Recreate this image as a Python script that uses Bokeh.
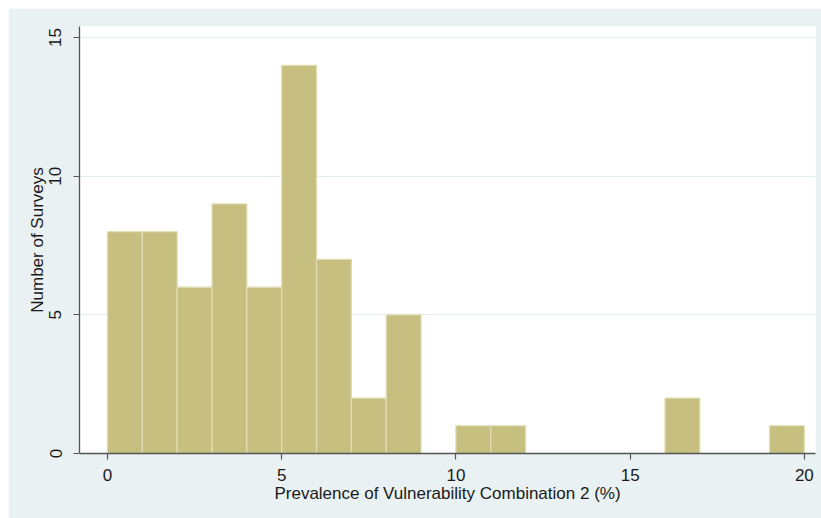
from bokeh.plotting import figure
from bokeh.models import ColumnDataSource, FixedTicker, Range1d
from bokeh.embed import file_html
from bokeh.resources import INLINE

# Data: histogram bins of width 1 (left edges) and counts
bin_left = list(range(20))
counts = [8, 8, 6, 9, 6, 14, 7, 2, 5, 0, 1, 1, 0, 0, 0, 0, 2, 0, 0, 1]
x_ticks = [0, 5, 10, 15, 20]
y_ticks = [0, 5, 10, 15]
x_label = "Prevalence of Vulnerability Combination 2 (%)"
y_label = "Number of Surveys"

bar_width = 1
lefts = [l for l, c in zip(bin_left, counts) if c > 0]
tops = [c for c in counts if c > 0]
src = ColumnDataSource(dict(
    left=lefts,
    right=[l + bar_width for l in lefts],
    top=tops,
    bottom=[0] * len(lefts),
))

BG = "#e9f1f3"
FONT = "Liberation Sans"

p = figure(width=813, height=510, output_backend="svg", toolbar_location=None,
           x_range=Range1d(-0.803, 20.32), y_range=Range1d(0, 15.4),
           min_border_left=71, min_border_right=6, min_border_top=18,
           min_border_bottom=65)
p.margin = (8, 0, 0, 8)
p.background_fill_color = "white"
p.border_fill_color = BG
p.outline_line_color = None

p.quad(left="left", right="right", top="top", bottom="bottom", source=src,
       fill_color="#c6bf80", line_color="#e2deb4", line_width=1.2)

p.xgrid.grid_line_color = None
p.ygrid.grid_line_color = "#e4edf0"
p.ygrid.grid_line_width = 1.2

p.xaxis.ticker = FixedTicker(ticks=x_ticks)
p.yaxis.ticker = FixedTicker(ticks=y_ticks)
p.xaxis.minor_tick_line_color = None
p.yaxis.minor_tick_line_color = None

for ax in (p.xaxis, p.yaxis):
    ax.axis_line_color = "#555555"
    ax.axis_line_width = 1.3
    ax.major_tick_line_color = "#555555"
    ax.major_tick_line_width = 1.2
    ax.major_tick_out = 6
    ax.major_tick_in = 0
    ax.major_label_text_font = FONT
    ax.major_label_text_font_size = "17px"
    ax.major_label_text_color = "#1a1a1a"
    ax.axis_label_text_font = FONT
    ax.axis_label_text_font_size = "17px"
    ax.axis_label_text_font_style = "normal"
    ax.axis_label_text_color = "#1a1a1a"

p.xaxis.axis_label = x_label
p.yaxis.axis_label = y_label
p.yaxis.major_label_orientation = "vertical"
p.xaxis.major_label_standoff = 9
p.xaxis.axis_label_standoff = 0
p.yaxis.major_label_standoff = 12
p.yaxis.axis_label_standoff = 0

open("out.html", "w").write(file_html(p, INLINE))
